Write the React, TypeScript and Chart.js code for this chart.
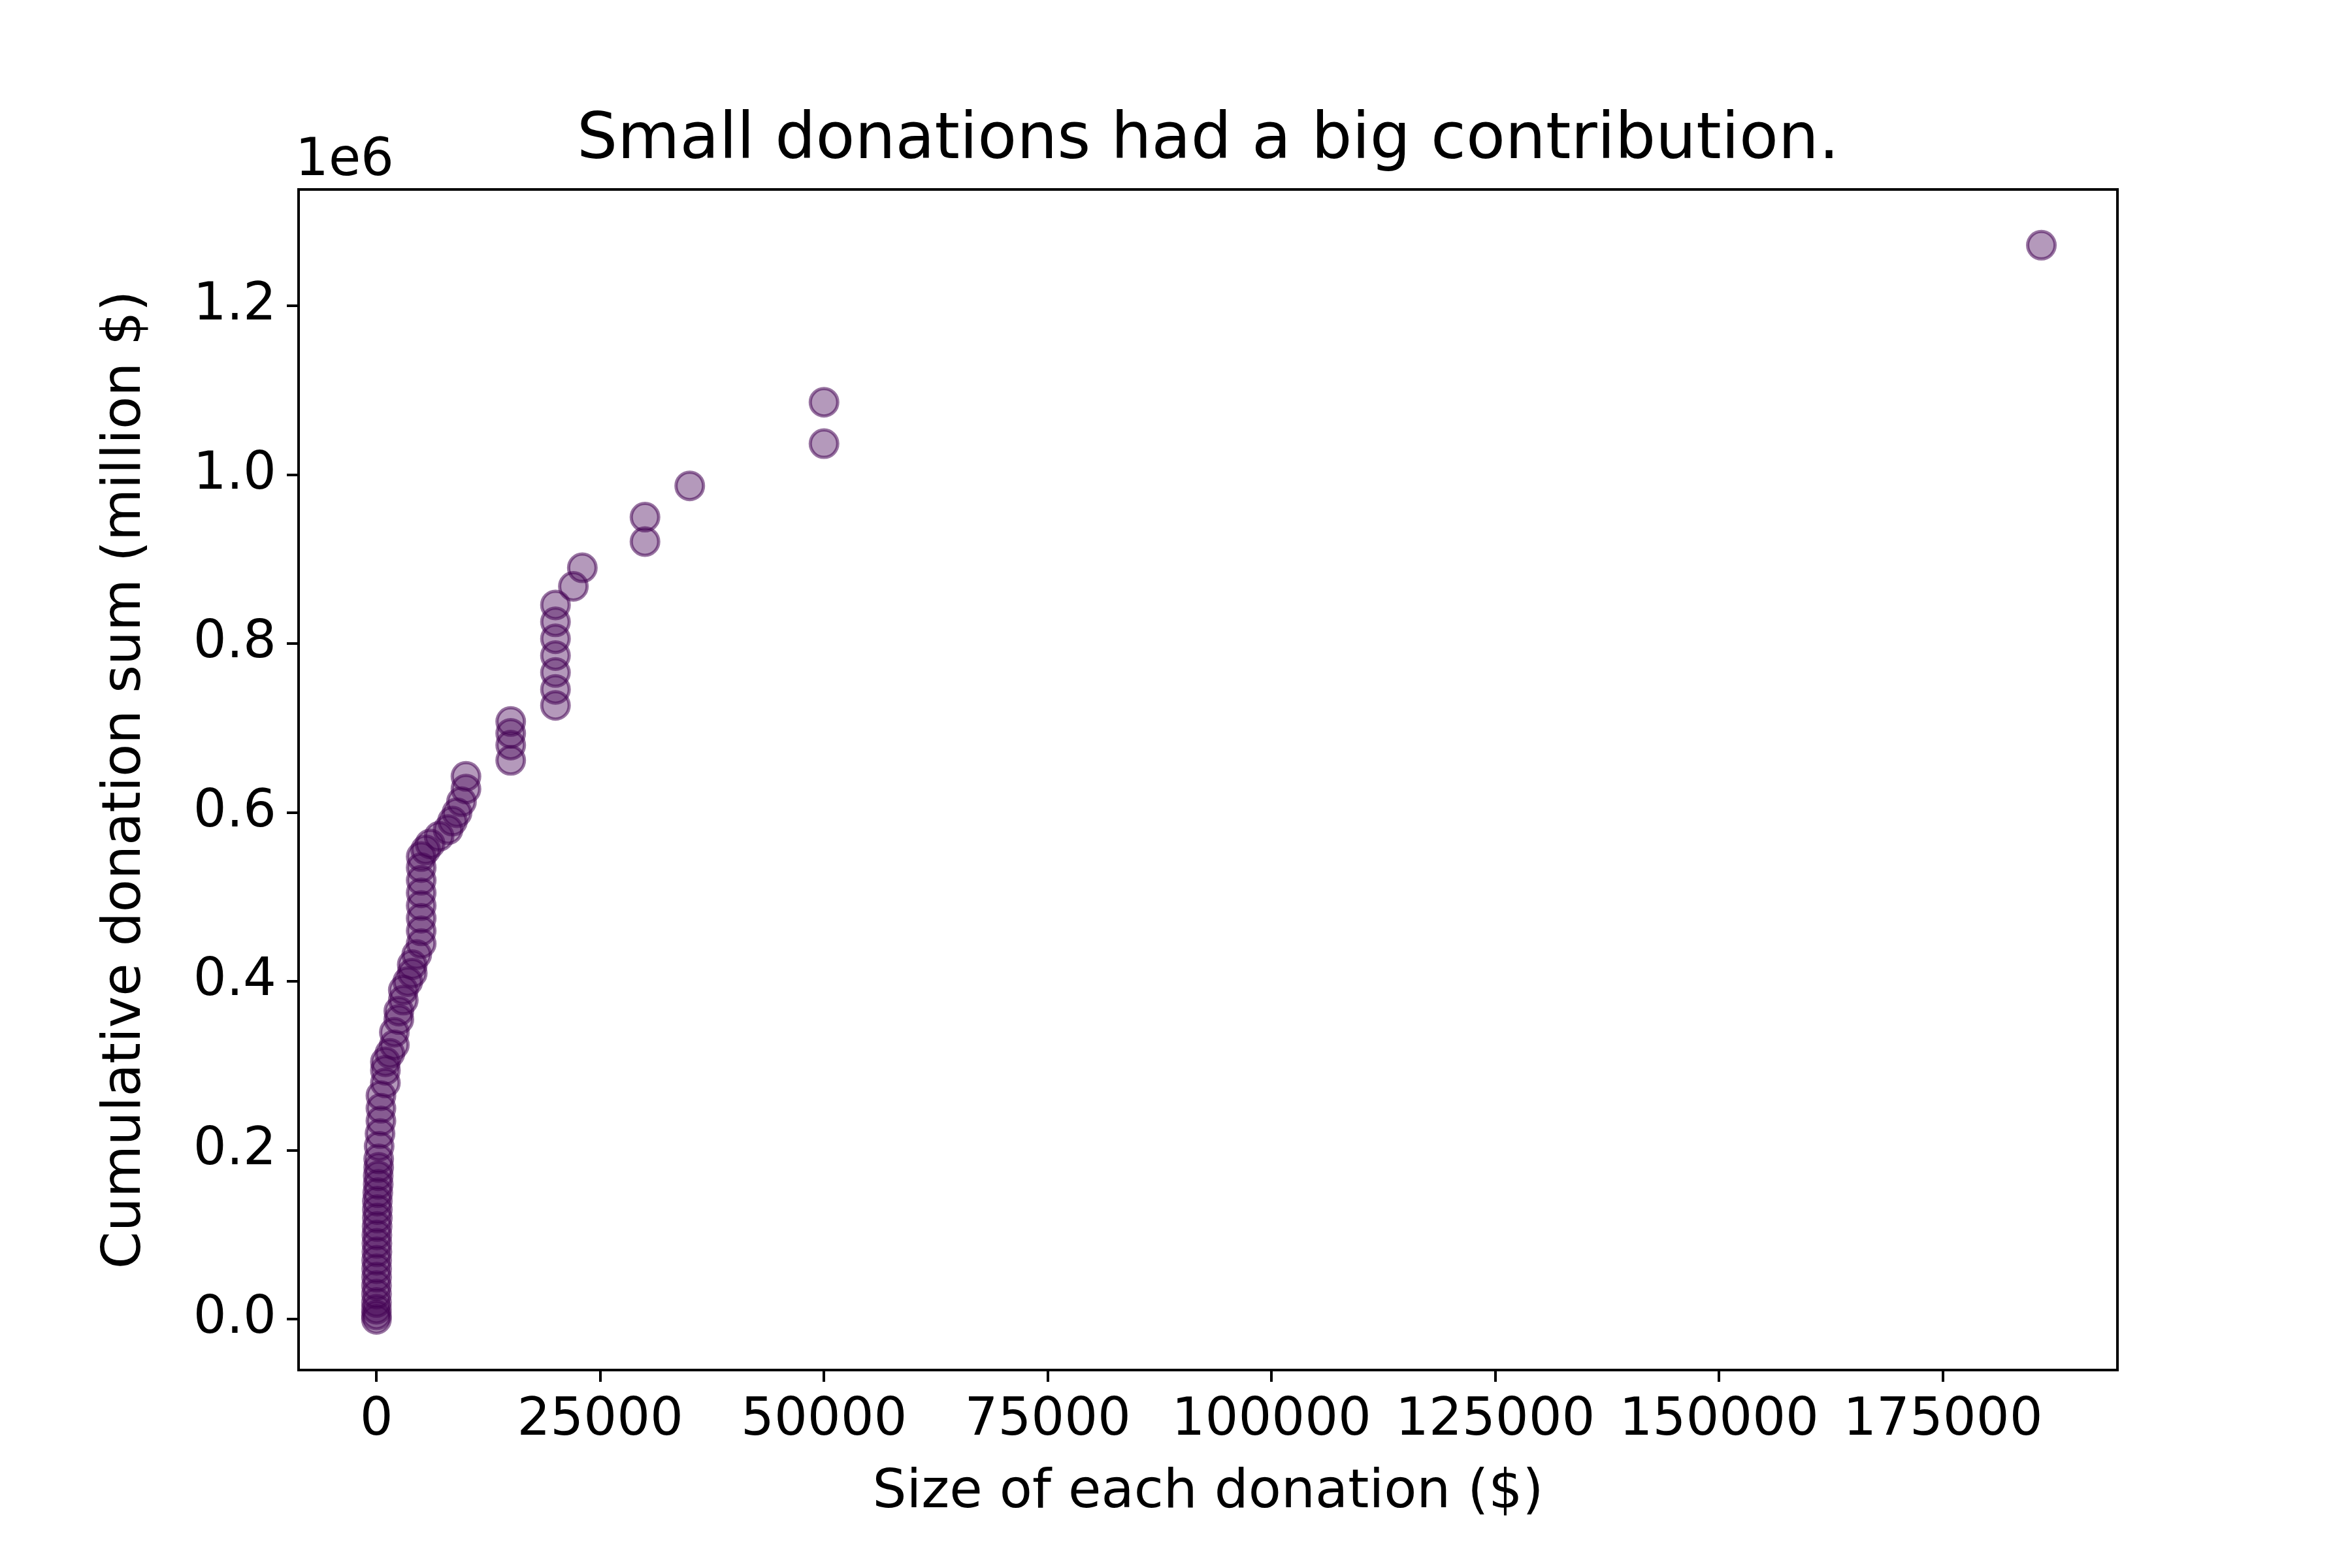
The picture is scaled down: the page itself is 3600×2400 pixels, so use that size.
import { useEffect, useRef } from "react";
import { Chart, registerables } from "chart.js";

Chart.register(...registerables);

const donationSize = [
  0, 0, 0, 5, 10, 10, 20, 25, 25, 50, 50, 50, 75, 100, 100, 100, 150, 200, 200, 250, 250, 300, 400, 500, 500,
  500, 1000, 1000, 1000, 1500, 2000, 2000, 2500, 2500, 3000, 3000, 3500, 4000, 4000, 4500, 5000, 5000, 5000,
  5000, 5000, 5000, 5000, 5000, 5500, 6000, 7000, 8000, 8500, 9000, 9500, 10000, 10000, 15000, 15000, 15000,
  15000, 20000, 20000, 20000, 20000, 20000, 20000, 20000, 22000, 23000, 30000, 30000, 35000, 50000, 50000, 186000,
];
const cumulativeSum = [
  0, 5000, 12000, 20000, 30000, 40000, 50000, 60000, 70000, 80000, 90000, 100000, 110000, 120000, 130000,
  140000, 150000, 160000, 170000, 180000, 190000, 205000, 220000, 235000, 250000, 265000, 280000, 295000,
  305000, 315000, 325000, 340000, 355000, 365000, 378000, 390000, 400000, 410000, 420000, 432000, 445000,
  460000, 475000, 490000, 505000, 520000, 535000, 548000, 556000, 563000, 572000, 580000, 590000, 600000,
  613000, 628000, 643000, 662000, 680000, 694000, 708000, 727000, 746000, 766000, 786000, 806000, 826000,
  846000, 868000, 890000, 921000, 950000, 987000, 1037000, 1086000, 1272000,
];
const xTicks = [0, 25000, 50000, 75000, 100000, 125000, 150000, 175000];
const yTicks = [0, 200000, 400000, 600000, 800000, 1000000, 1200000];

const font = "DejaVu Sans";

export default function App() {
  const ref = useRef<HTMLCanvasElement>(null);

  useEffect(() => {
    if (!ref.current) return;
    const frame = {
      id: "frame",
      afterDraw(chart: Chart) {
        const { ctx, chartArea: a } = chart;
        ctx.save();
        ctx.strokeStyle = "#000";
        ctx.lineWidth = 4;
        ctx.strokeRect(a.left, a.top, a.right - a.left, a.bottom - a.top);
        ctx.fillStyle = "#000";
        ctx.font = `98px '${font}'`;
        ctx.textAlign = "center";
        ctx.textBaseline = "alphabetic";
        ctx.fillText("Small donations had a big contribution.", (a.left + a.right) / 2, 242);
        ctx.font = `80px '${font}'`;
        ctx.textAlign = "left";
        ctx.fillText("1e6", a.left - 5, 268);
        ctx.restore();
      },
    };
    const chart = new Chart(ref.current, {
      type: "scatter",
      data: {
        datasets: [
          {
            data: donationSize.map((x, i) => ({ x, y: cumulativeSum[i] })),
            backgroundColor: "rgba(68,1,84,0.4)",
            borderColor: "rgba(68,1,84,0.55)",
            borderWidth: 5,
            pointRadius: 21,
          },
        ],
      },
      options: {
        responsive: false,
        animation: false,
        devicePixelRatio: 1,
        layout: { padding: { left: 140, right: 359, top: 290, bottom: 61 } },
        plugins: { legend: { display: false }, tooltip: { enabled: false } },
        scales: {
          x: {
            type: "linear",
            min: -8700,
            max: 194500,
            afterFit: (s: any) => { s.height = 242; },
            afterBuildTicks: (s: any) => { s.ticks = xTicks.map((value) => ({ value })); },
            grid: { drawOnChartArea: false, tickLength: 18, color: "#000", lineWidth: 4 },
            border: { display: false },
            ticks: { color: "#000", font: { family: font, size: 80 }, padding: 12, maxRotation: 0, callback: (v: any) => String(v) },
            title: { display: true, text: "Size of each donation ($)", color: "#000", font: { family: font, size: 82 } },
          },
          y: {
            min: -60000,
            max: 1338000,
            afterFit: (s: any) => { s.width = 317; },
            afterBuildTicks: (s: any) => { s.ticks = yTicks.map((value) => ({ value })); },
            grid: { drawOnChartArea: false, tickLength: 18, color: "#000", lineWidth: 4 },
            border: { display: false },
            ticks: {
              color: "#000",
              font: { family: font, size: 80 },
              padding: 16,
              callback: (v: any) => (Number(v) / 1e6).toFixed(1),
            },
            title: { display: true, text: "Cumulative donation sum (million $)", color: "#000", font: { family: font, size: 82 } },
          },
        },
      },
      plugins: [frame],
    });
    return () => chart.destroy();
  }, []);

  return (
    <div style={{ width: 3600, height: 2400, background: "#fff", margin: -8 }}>
      <canvas ref={ref} width={3600} height={2400} style={{ width: 3600, height: 2400 }} />
    </div>
  );
}
